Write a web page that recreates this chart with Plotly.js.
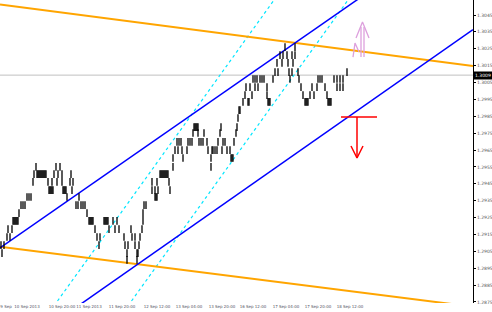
<!DOCTYPE html>
<html><head><meta charset="utf-8">
<script src="https://cdn.plot.ly/plotly-3.0.1.min.js"></script>
<style>html,body{margin:0;padding:0;background:#fff}#c{width:492px;height:312px}</style>
</head><body><div id="c"></div>
<script>
// price bars (bar index, price)
const barIndex = [1,2,4,7,8,10,12,13,14,15,16,17,18,19,21,23,25,27,29,31,33,34,36,
37,38,39,40,41,42,43,44,45,46,48,49,50,51,52,53,52,54,56,57,58,60,62,62,63,64,65,66,67,
70,71,72,73,76,78,79,81,83,85,87,89,90,91,92,93,95,97,99,100,104,105,106,107,108,109,
113,115,117,119,124,125,127,127,128,131,132,135,135,137,137,138,139,140,142,143,143,144,146,
152,152,155,155,156,157,157,158,160,161,162,163,164,165,166,167,168,169,170,173,173,
175,177,178,179,181,182,183,187,188,190,192,193,194,195,196,197,198,198,199,201,203,204,
207,208,211,211,212,213,215,217,218,220,221,222,223,225,227,230,231,232,233,234,236,237,238,239,
240,243,245,246,248,249,250,252,253,255,255,257,258,260,262,264,267,267,268,269,270,
273,275,277,278,280,282,283,285,287,288,289,290,292,292,293,295,295,298,299,301,303,
305,306,307,308,310,312,314,317,318,320,322,325,327,328,329,330,331,334,337,340,343,337,340,343,347];
const barPrice = [1.29087,1.29040,1.29087,1.29135,1.29182,1.29135,1.29182,1.29230,1.29230,1.29230,1.29230,1.29230,1.29230,1.29277,1.29324,1.29324,1.29324,1.29372,1.29372,1.29372,1.29461,1.29508,1.29550,
1.29508,1.29508,1.29508,1.29508,1.29508,1.29508,1.29508,1.29508,1.29508,1.29508,1.29461,1.29413,1.29413,1.29413,1.29413,1.29413,1.29461,1.29508,1.29550,1.29461,1.29508,1.29550,1.29508,1.29461,1.29413,1.29413,1.29413,1.29413,1.29372,
1.29461,1.29508,1.29413,1.29461,1.29324,1.29324,1.29372,1.29324,1.29324,1.29324,1.29277,1.29230,1.29230,1.29230,1.29230,1.29230,1.29182,1.29135,1.29087,1.29135,1.29230,1.29230,1.29230,1.29230,1.29230,1.29182,
1.29230,1.29182,1.29230,1.29182,1.29135,1.29087,1.29040,1.28999,1.29087,1.29182,1.29135,1.29135,1.29087,1.29040,1.28999,1.29040,1.29087,1.29135,1.29182,1.29230,1.29277,1.29324,1.29324,
1.29461,1.29413,1.29413,1.29372,1.29372,1.29372,1.29461,1.29413,1.29508,1.29508,1.29508,1.29508,1.29508,1.29508,1.29508,1.29508,1.29508,1.29461,1.29413,1.29550,1.29603,
1.29650,1.29698,1.29650,1.29698,1.29698,1.29650,1.29603,1.29650,1.29698,1.29698,1.29698,1.29751,1.29786,1.29786,1.29786,1.29786,1.29786,1.29751,1.29698,1.29698,1.29698,1.29751,
1.29698,1.29650,1.29603,1.29550,1.29650,1.29650,1.29650,1.29650,1.29698,1.29751,1.29786,1.29650,1.29698,1.29698,1.29650,1.29650,1.29603,1.29603,1.29603,1.29698,1.29751,1.29786,1.29840,1.29887,
1.29887,1.29935,1.29976,1.30023,1.29935,1.29935,1.30023,1.29976,1.30071,1.30071,1.30023,1.30071,1.30023,1.30071,1.30071,1.30071,1.30023,1.29976,1.29935,1.29935,1.29935,
1.30071,1.30112,1.30166,1.30112,1.30213,1.30166,1.30213,1.30260,1.30213,1.30166,1.30112,1.30071,1.30112,1.30213,1.30166,1.30260,1.30213,1.30112,1.30071,1.30023,1.29976,
1.29935,1.29935,1.29935,1.29935,1.29976,1.30023,1.29976,1.30023,1.30071,1.30071,1.30071,1.30023,1.29976,1.29935,1.29935,1.29935,1.29935,1.30071,1.30071,1.30071,1.30071,1.30023,1.30023,1.30023,1.30112];

// channel / trend lines (bar index, price)
const orangeTopX = [0, 473], orangeTopP = [1.30512, 1.30148];
const orangeBotX = [0, 473], orangeBotP = [1.29077, 1.28722];
const blueTopX = [0, 360], blueTopP = [1.29070, 1.30552];
const blueBotX = [78, 473], blueBotP = [1.28726, 1.30364];
const cyanAX = [54, 276], cyanAP = [1.28727, 1.30555];
const cyanBX = [128, 350], cyanBP = [1.28727, 1.30555];
const currentPrice = 1.30094;
const currentLabel = "1.3009";
const redLevelX = [341, 377], redLevelP = [1.29846, 1.29846];
const redArrowX = [357, 357, null, 351, 357, 363];
const redArrowP = [1.29846, 1.29603, null, 1.29674, 1.29603, 1.29674];
const pinkArrowX = [361, 361, null, 364, 364, null, 356, 362.5, 369, null, 353, 355, 359];
const pinkArrowP = [1.30201, 1.30379, null, 1.30201, 1.30379, null, 1.30314, 1.30409, 1.30314, null, 1.30201, 1.30284, 1.30231];

// axis ticks
const yTickVals = [1.3045,1.3035,1.3025,1.3015,1.3005,1.2995,1.2985,1.2975,1.2965,1.2955,1.2945,1.2935,1.2925,1.2915,1.2905,1.2895,1.2885,1.2875];
const yTickText = ["1.3045","1.3035","1.3025","1.3015","1.3005","1.2995","1.2985","1.2975","1.2965","1.2955","1.2945","1.2935","1.2925","1.2915","1.2905","1.2895","1.2885","1.2875"];
const xTickVals = [6, 27, 62, 89, 122, 157, 189, 222, 253, 286, 318, 350];
const xTickText = ["9 Sep","10 Sep 2013","10 Sep 20:00","11 Sep 2013","11 Sep 20:00","12 Sep 12:00","13 Sep 04:00","13 Sep 20:00","16 Sep 12:00","17 Sep 04:00","17 Sep 20:00","18 Sep 12:00"];

const ln = (x, y, color, width, dash) => ({type:'scatter', mode:'lines', x, y, hoverinfo:'skip',
  line:{color, width, dash: dash || 'solid'}, connectgaps:false});

const traces = [
  ln([0,473],[currentPrice,currentPrice],'#C0C0C0',1),
  ln(cyanAX, cyanAP, 'rgb(0,230,255)', 1.2, 'dot'),
  ln(cyanBX, cyanBP, 'rgb(0,230,255)', 1.2, 'dot'),
  ln(orangeTopX, orangeTopP, '#FFA500', 2),
  ln(orangeBotX, orangeBotP, '#FFA500', 2),
  ln(blueTopX, blueTopP, '#0000FF', 1.5),
  ln(blueBotX, blueBotP, '#0000FF', 1.5),
  {type:'scatter', mode:'markers', x: barIndex, y: barPrice, hoverinfo:'skip',
   marker:{symbol:'line-ns', size:5.5, color:'black', line:{color:'black', width:1.3}}},
  ln(redLevelX, redLevelP, '#FF0000', 1.5),
  ln(redArrowX, redArrowP, '#FF0000', 1.5),
  ln(pinkArrowX, pinkArrowP, '#DDA0DD', 1.3)
];

const layout = {
  width:492, height:312, showlegend:false,
  paper_bgcolor:'#fff', plot_bgcolor:'#fff',
  margin:{l:0, r:19, t:0, b:9, pad:0},
  font:{family:'DejaVu Sans, sans-serif', size:4.5, color:'#555'},
  xaxis:{range:[0,473], showgrid:false, zeroline:false, showline:false, ticks:'',
    tickvals:xTickVals, ticktext:xTickText, tickangle:0, tickfont:{size:4, color:'#556'}, fixedrange:true},
  yaxis:{range:[1.28744, 1.30539], side:'right', showgrid:false, zeroline:false,
    showline:true, linecolor:'#000', linewidth:1, ticks:'outside', ticklen:2, tickcolor:'#000', tickwidth:1,
    tickvals:yTickVals, ticktext:yTickText, tickfont:{size:4.5, color:'#555'}, fixedrange:true},
  annotations:[{xref:'paper', x:1, xanchor:'left', yref:'y', y:currentPrice, yanchor:'middle',
    text:currentLabel, showarrow:false, bgcolor:'#000', font:{size:4.5, color:'#fff'}, borderpad:1, xshift:0}]
};
Plotly.newPlot('c', traces, layout, {staticPlot:true, displayModeBar:false});
</script></body></html>
